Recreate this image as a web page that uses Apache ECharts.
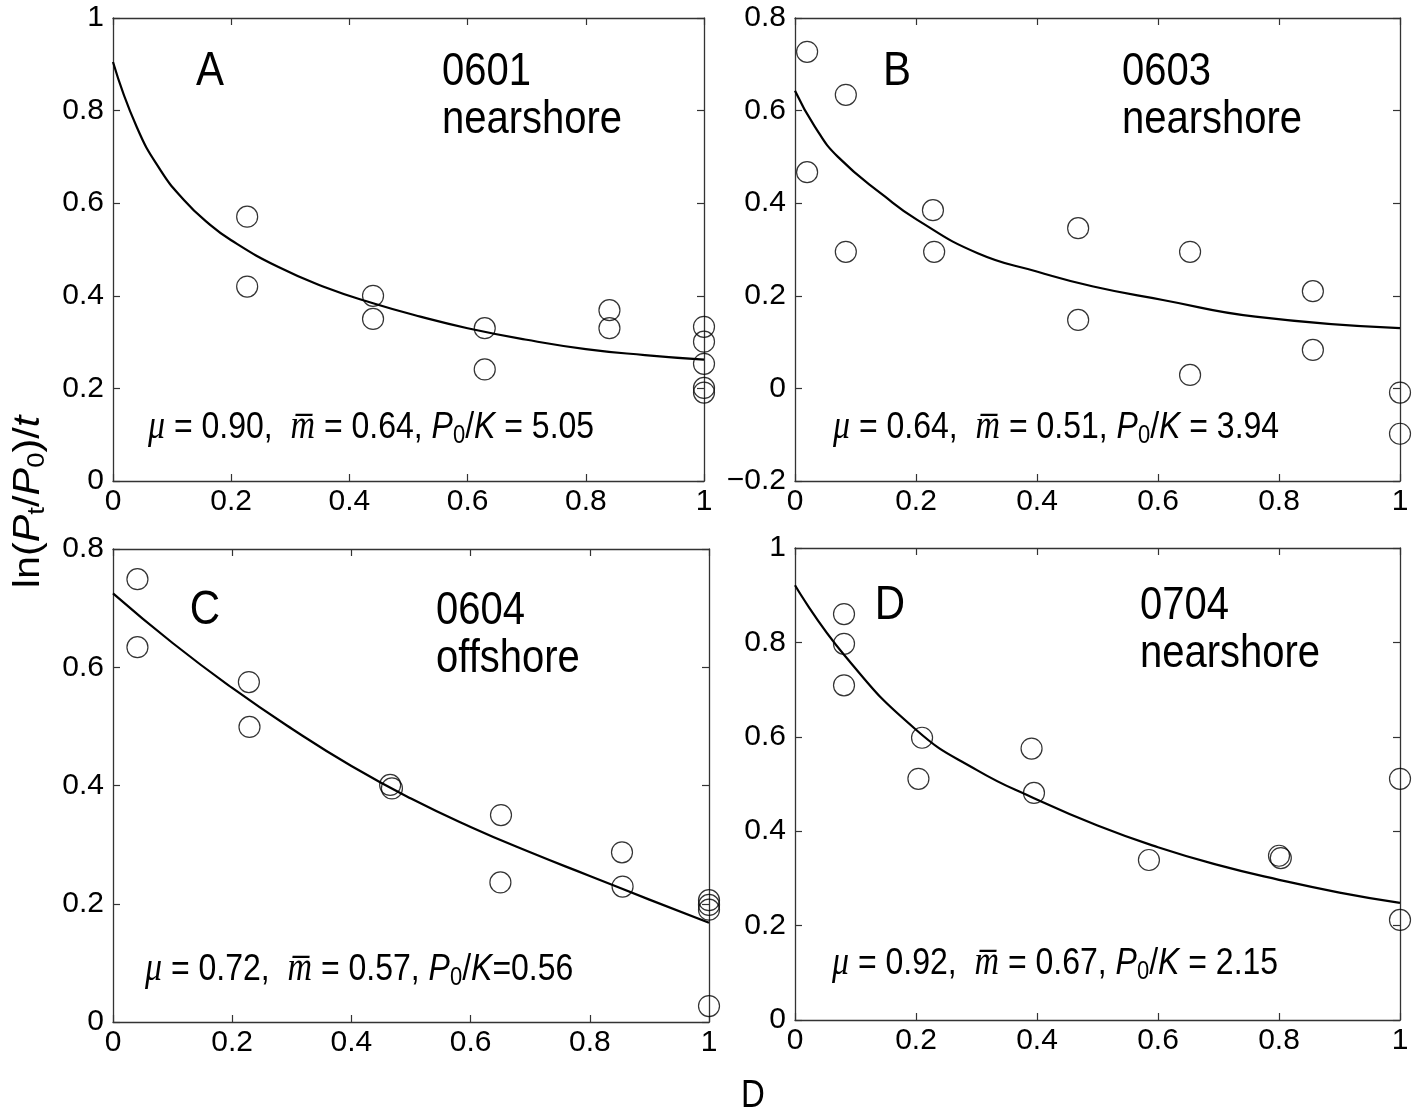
<!DOCTYPE html>
<html>
<head>
<meta charset="utf-8">
<title>ln(Pt/P0)/t vs D</title>
<script src="https://cdn.jsdelivr.net/npm/echarts@6/dist/echarts.min.js"></script>
<style>
  html, body { margin: 0; padding: 0; background: #fff; }
  #chart { width: 1419px; height: 1116px; }
</style>
</head>
<body>
<div id="chart"></div>
<script>
// observed points (D, ln(Pt/P0)/t) and fitted curve, per panel
const ptsA_D = [0.227, 0.227, 0.440, 0.440, 0.629, 0.629, 0.840, 0.840, 1, 1, 1, 1, 1];
const ptsA_R = [0.571, 0.420, 0.400, 0.350, 0.330, 0.241, 0.369, 0.330, 0.333, 0.301, 0.253, 0.201, 0.191];
const fitA_D = [0, 0.04, 0.08, 0.12, 0.16, 0.2, 0.28, 0.36, 0.44, 0.52, 0.6, 0.7, 0.8, 0.9, 1];
const fitA_R = [0.905, 0.765, 0.672, 0.607, 0.558, 0.52, 0.462, 0.418, 0.384, 0.355, 0.33, 0.305, 0.285, 0.272, 0.262];

const ptsB_D = [0.020, 0.020, 0.084, 0.084, 0.228, 0.230, 0.468, 0.468, 0.653, 0.653, 0.856, 0.856, 1, 1];
const ptsB_R = [0.727, 0.467, 0.634, 0.295, 0.385, 0.295, 0.346, 0.148, 0.295, 0.029, 0.210, 0.083, -0.009, -0.098];
const fitB_D = [0, 0.033, 0.071, 0.149, 0.202, 0.302, 0.401, 0.493, 0.608, 0.761, 1];
const fitB_R = [0.643, 0.565, 0.500, 0.414, 0.364, 0.292, 0.252, 0.220, 0.191, 0.155, 0.130];

const ptsC_D = [0.041, 0.041, 0.228, 0.229, 0.465, 0.468, 0.651, 0.650, 0.854, 0.855, 1, 1, 1, 1];
const ptsC_R = [0.749, 0.634, 0.575, 0.499, 0.401, 0.395, 0.350, 0.236, 0.287, 0.229, 0.206, 0.198, 0.190, 0.027];
const fitC_D = [0, 0.1, 0.2, 0.3, 0.4, 0.5, 0.6, 0.7, 0.8, 0.9, 1];
const fitC_R = [0.725, 0.641, 0.565, 0.496, 0.433, 0.378, 0.33, 0.287, 0.247, 0.207, 0.168];

const ptsD_D = [0.081, 0.081, 0.081, 0.210, 0.204, 0.391, 0.395, 0.585, 0.800, 0.803, 1, 1];
const ptsD_R = [0.860, 0.797, 0.709, 0.598, 0.511, 0.575, 0.481, 0.339, 0.348, 0.343, 0.511, 0.212];
const fitD_D = [0, 0.081, 0.2, 0.3, 0.395, 0.5, 0.6, 0.7, 0.8, 0.9, 1];
const fitD_R = [0.921, 0.774, 0.615, 0.53, 0.47, 0.412, 0.366, 0.328, 0.297, 0.27, 0.248];

// panel letters, station, site, fitted parameters
const letters = ['A', 'B', 'C', 'D'];
const stations = ['0601', '0603', '0604', '0704'];
const sites = ['nearshore', 'nearshore', 'offshore', 'nearshore'];
const mu = ['0.90', '0.64', '0.72', '0.92'];
const mbar = ['0.64', '0.51', '0.57', '0.67'];
const p0k = ['5.05', '3.94', '0.56', '2.15'];
const yRanges = [[0, 1], [-0.2, 0.8], [0, 0.8], [0, 1]];

const SANS = '"Liberation Sans", Arial, Helvetica, sans-serif';
const SERIF = '"Liberation Serif", "DejaVu Serif", "Times New Roman", serif';
const STRETCH = 1.15; // the figure's lettering is a bit taller than wide

const grids = [
  { left: 113, top: 18, width: 591, height: 463 },
  { left: 795, top: 18, width: 605, height: 463 },
  { left: 113, top: 549, width: 596, height: 473 },
  { left: 795, top: 548, width: 605, height: 472 }
];

function zip(xs, ys) {
  return xs.map((x, i) => [x, ys[i]]);
}

const pts = [zip(ptsA_D, ptsA_R), zip(ptsB_D, ptsB_R), zip(ptsC_D, ptsC_R), zip(ptsD_D, ptsD_R)];
const fits = [zip(fitA_D, fitA_R), zip(fitB_D, fitB_R), zip(fitC_D, fitC_R), zip(fitD_D, fitD_R)];

const axisLine = { show: true, onZero: false, lineStyle: { color: '#333', width: 1.3 } };
const axisTick = { show: true, inside: true, length: 7, lineStyle: { color: '#333', width: 1.2 } };
const labelStyle = { color: '#000', fontSize: 30, fontFamily: SANS };
const fmt = v => String(Math.round(v * 10) / 10).replace('-', '\u2212');

const xAxes = [];
const yAxes = [];
grids.forEach((g, i) => {
  ['bottom', 'top'].forEach(pos => {
    xAxes.push({
      type: 'value', gridIndex: i, position: pos, min: 0, max: 1, interval: 0.2,
      axisLine, axisTick, splitLine: { show: false },
      axisLabel: Object.assign({ show: pos === 'bottom', margin: 6, formatter: fmt }, labelStyle)
    });
  });
  ['left', 'right'].forEach(pos => {
    yAxes.push({
      type: 'value', gridIndex: i, position: pos, min: yRanges[i][0], max: yRanges[i][1], interval: 0.2,
      axisLine, axisTick, splitLine: { show: false },
      axisLabel: Object.assign({ show: pos === 'left', margin: 9, formatter: fmt }, labelStyle)
    });
  });
});

const series = [];
grids.forEach((g, i) => {
  series.push({
    type: 'line', xAxisIndex: i * 2, yAxisIndex: i * 2, data: fits[i],
    showSymbol: false, smooth: 0.5,
    lineStyle: { color: '#000', width: 2.2 }, z: 2
  });
  series.push({
    type: 'scatter', xAxisIndex: i * 2, yAxisIndex: i * 2, data: pts[i],
    symbol: 'circle', symbolSize: 21,
    itemStyle: { color: 'rgba(0,0,0,0)', borderColor: '#000', borderWidth: 1.2 }, z: 3
  });
});

// text placement per panel: letter centre, station/site left edge, formula left edge
const letterPos = [[210, 72], [897, 72], [205, 611], [890, 606]];
const labelPos = [[442, 72], [1122, 72], [436, 611], [1140, 606]];
const formulaPos = [[148, 428], [833, 428], [145, 970], [832, 964]];

const formulaRich = {
  g: { fontFamily: SERIF, fontStyle: 'italic', fontSize: 34, color: '#000', lineHeight: 36 },
  n: { fontFamily: SANS, fontSize: 32, color: '#000', lineHeight: 36 },
  i: { fontFamily: SANS, fontStyle: 'italic', fontSize: 32, color: '#000', lineHeight: 36 },
  s: { fontFamily: SANS, fontSize: 22, color: '#000', lineHeight: 22, verticalAlign: 'bottom' }
};

function plainText(x, y, text, size, align) {
  return {
    type: 'text', x: x, y: y, scaleY: STRETCH,
    style: { text: text, font: size + 'px ' + SANS, fill: '#000', textAlign: align, textVerticalAlign: 'middle' }
  };
}

const graphic = [];
letters.forEach((l, i) => {
  graphic.push(plainText(letterPos[i][0], letterPos[i][1], l, 42, 'center'));
  graphic.push(plainText(labelPos[i][0], labelPos[i][1], stations[i], 40, 'left'));
  graphic.push(plainText(labelPos[i][0], labelPos[i][1] + 48, sites[i], 40, 'left'));
  const eq = i === 2 ? '=' : ' = ';
  graphic.push({
    type: 'text', x: formulaPos[i][0], y: formulaPos[i][1], scaleY: STRETCH,
    style: {
      text: '{g|\u03bc}{n| = ' + mu[i] + ',  }{g|m\u0305}{n| = ' + mbar[i] + ', }{i|P}{s|0}{n|/}{i|K}{n|' + eq + p0k[i] + '}',
      rich: formulaRich, textAlign: 'left', textVerticalAlign: 'middle'
    }
  });
});

// shared axis titles
graphic.push({
  type: 'text', x: 29, y: 502, rotation: Math.PI / 2, scaleX: STRETCH,
  style: {
    text: '{n|ln(}{i|P}{s|t}{n|/}{i|P}{s|0}{n|)/}{i|t}',
    rich: {
      n: { fontFamily: SANS, fontSize: 36, color: '#000', lineHeight: 40 },
      i: { fontFamily: SANS, fontStyle: 'italic', fontSize: 36, color: '#000', lineHeight: 40 },
      s: { fontFamily: SANS, fontSize: 24, color: '#000', lineHeight: 24, verticalAlign: 'bottom' }
    },
    textAlign: 'center', textVerticalAlign: 'middle'
  }
});
graphic.push(plainText(753, 1097, 'D', 33, 'center'));

const chart = echarts.init(document.getElementById('chart'));
chart.setOption({
  backgroundColor: '#fff',
  animation: false,
  grid: grids,
  xAxis: xAxes,
  yAxis: yAxes,
  series: series,
  graphic: graphic
});
</script>
</body>
</html>
